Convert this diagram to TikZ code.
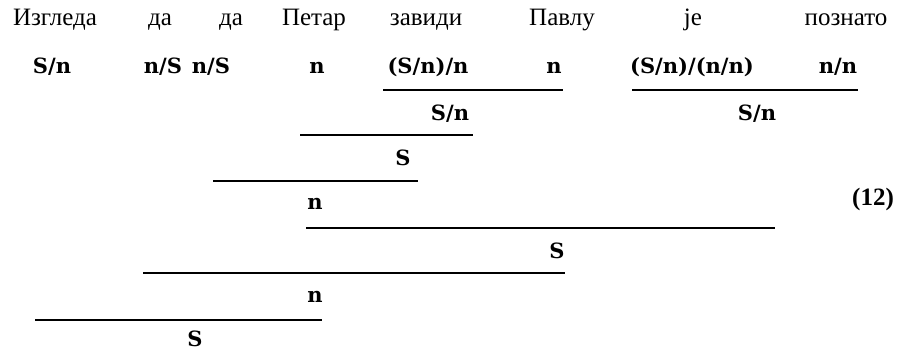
\documentclass[tikz,border=0pt]{standalone}
\usepackage{fontspec}
\setmainfont{Liberation Serif}
\newfontfamily\catfont{DejaVu Serif}
\usetikzlibrary{positioning}

\begin{document}
\begin{tikzpicture}[
  x=1pt, y=-1pt,
  every node/.style={inner sep=0pt, font=\fontsize{25}{28}\selectfont},
  word/.style={anchor=base},
  cat/.style={anchor=base, font=\fontsize{21}{24}\catfont\bfseries},
  bar/.style={line width=1.1pt},
]
\useasboundingbox (0,0) rectangle (900,351);

% Words
\node[word] (w1) at (55, 25) {Изгледа};
\node[word] (w2) at (160, 25) {да};
\node[word] (w3) at (231, 25) {да};
\node[word] (w4) at (314, 25) {Петар};
\node[word] (w5) at (426, 25) {завиди};
\node[word] (w6) at (562, 25) {Павлу};
\node[word] (w7) at (693, 25) {je};
\node[word] (w8) at (846, 25) {познато};

% Lexical categories
\node[cat] (c1) at (52, 73) {S/n};
\node[cat] (c2) at (163, 73) {n/S};
\node[cat] (c3) at (211, 73) {n/S};
\node[cat] (c4) at (317, 73) {n};
\node[cat] (c5) at (428, 73) {(S/n)/n};
\node[cat] (c6) at (554, 73) {n};
\node[cat] (c7) at (692, 73) {(S/n)/(n/n)};
\node[cat] (c8) at (838, 73) {n/n};

% Derivation steps
\coordinate (a1) at (383, 90);  \coordinate (a2) at (563, 90);
\coordinate (b1) at (632, 90);  \coordinate (b2) at (858, 90);
\draw[bar] (a1) -- (a2);
\draw[bar] (b1) -- (b2);
\node[cat] (r1) at (450, 120) {S/n};
\node[cat] (r2) at (757, 120) {S/n};

\coordinate (d1) at (300, 135); \coordinate (d2) at (473, 135);
\draw[bar] (d1) -- (d2);
\node[cat] (r3) at (403, 165) {S};

\coordinate (e1) at (213, 181); \coordinate (e2) at (418, 181);
\draw[bar] (e1) -- (e2);
\node[cat] (r4) at (315, 209) {n};
\node[cat, font=\fontsize{25}{28}\selectfont\bfseries] (num) at (873, 205) {(12)};

\coordinate (f1) at (306, 228); \coordinate (f2) at (775, 228);
\draw[bar] (f1) -- (f2);
\node[cat] (r5) at (557, 258) {S};

\coordinate (g1) at (143, 273); \coordinate (g2) at (565, 273);
\draw[bar] (g1) -- (g2);
\node[cat] (r6) at (315, 302) {n};

\coordinate (h1) at (35, 320); \coordinate (h2) at (322, 320);
\draw[bar] (h1) -- (h2);
\node[cat] (r7) at (195, 346) {S};

\end{tikzpicture}
\end{document}
